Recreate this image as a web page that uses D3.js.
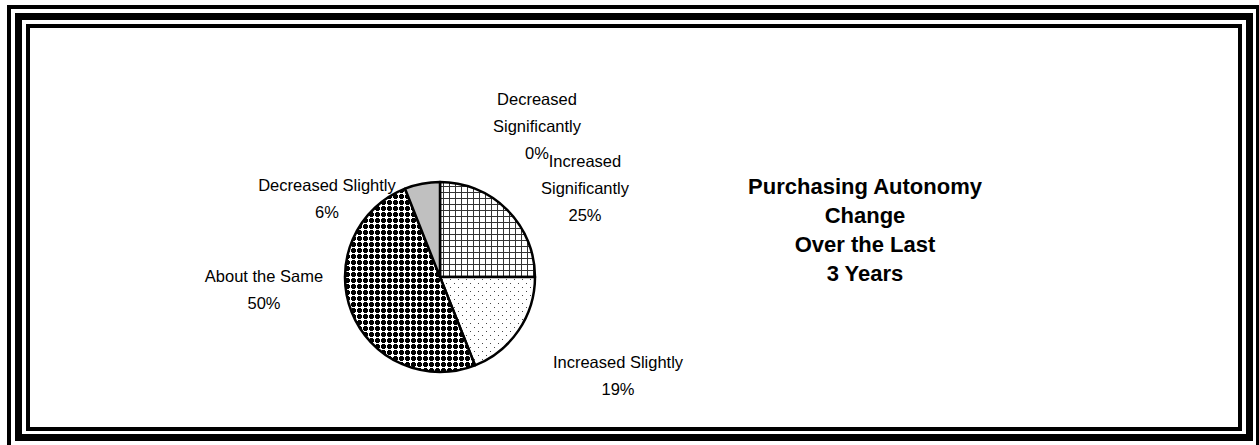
<!DOCTYPE html>
<html>
<head>
<meta charset="utf-8">
<script src="https://cdn.jsdelivr.net/npm/d3@7/dist/d3.min.js"></script>
<style>
  html, body { margin: 0; padding: 0; background: #fff; }
  svg { display: block; }
  text { font-family: "Liberation Sans", Arial, sans-serif; fill: #000; }
</style>
</head>
<body>
<svg id="chart" width="1259" height="445"></svg>
<script>
// Survey answers, in clockwise order from 12 o'clock
const categories = [
  "Increased Significantly",
  "Increased Slightly",
  "About the Same",
  "Decreased Slightly",
  "Decreased Significantly"
];
const values = [25, 19, 50, 6, 0];
const labelLines = [
  ["Increased", "Significantly", "25%"],
  ["Increased Slightly", "19%"],
  ["About the Same", "50%"],
  ["Decreased Slightly", "6%"],
  ["Decreased", "Significantly", "0%"]
];
const titleLines = ["Purchasing Autonomy", "Change", "Over the Last", "3 Years"];

// Fill for each slice (pattern ids or colours)
const fills = ["url(#pGrid)", "url(#pDots)", "url(#pPlus)", "#c0c0c0", "#ffffff"];
// Label anchor offsets from the pie centre
const labelOffsets = [[145, -89], [178, 99], [-176, 13], [-113, -78], [97, -151]];

const W = 1259, H = 445;
const cx = 440, cy = 277, R = 95;
const svg = d3.select("#chart");

// Patterns
const defs = svg.append("defs");
const grid = defs.append("pattern").attr("id", "pGrid")
  .attr("patternUnits", "userSpaceOnUse").attr("width", 6).attr("height", 6);
grid.append("rect").attr("width", 6).attr("height", 6).attr("fill", "#fff");
grid.append("rect").attr("x", 3).attr("y", 0).attr("width", 1).attr("height", 6).attr("fill", "#333");
grid.append("rect").attr("x", 0).attr("y", 5).attr("width", 6).attr("height", 1).attr("fill", "#333");

const dots = defs.append("pattern").attr("id", "pDots")
  .attr("patternUnits", "userSpaceOnUse").attr("width", 8).attr("height", 8);
dots.append("rect").attr("width", 8).attr("height", 8).attr("fill", "#fff");
dots.append("rect").attr("x", 2).attr("y", 2).attr("width", 1).attr("height", 1).attr("fill", "#444");
dots.append("rect").attr("x", 6).attr("y", 6).attr("width", 1).attr("height", 1).attr("fill", "#444");

const plus = defs.append("pattern").attr("id", "pPlus")
  .attr("patternUnits", "userSpaceOnUse").attr("width", 6).attr("height", 6);
plus.append("rect").attr("width", 6).attr("height", 6).attr("fill", "#fff");
plus.append("rect").attr("x", 2).attr("y", 1).attr("width", 3).attr("height", 5).attr("fill", "#000");
plus.append("rect").attr("x", 1).attr("y", 2).attr("width", 5).attr("height", 3).attr("fill", "#000");

// Triple frame
svg.append("rect").attr("x", 9).attr("y", 7).attr("width", 1249).attr("height", 440)
  .attr("fill", "none").attr("stroke", "#000").attr("stroke-width", 4);
svg.append("rect").attr("x", 18.5).attr("y", 16.5).attr("width", 1231).attr("height", 421)
  .attr("fill", "none").attr("stroke", "#000").attr("stroke-width", 7);
svg.append("rect").attr("x", 28).attr("y", 26).attr("width", 1212).attr("height", 403)
  .attr("fill", "none").attr("stroke", "#000").attr("stroke-width", 4);

// Pie
const pie = d3.pie().sort(null).value(d => d)(values);
const arc = d3.arc().innerRadius(0).outerRadius(R);
const g = svg.append("g").attr("transform", `translate(${cx},${cy})`);
g.selectAll("path.slice").data(pie.filter(d => d.value > 0)).join("path")
  .attr("class", "slice")
  .attr("d", arc)
  .attr("fill", d => fills[d.index])
  .attr("stroke", "#000")
  .attr("stroke-width", 2.5)
  .attr("stroke-linejoin", "round");

// Slice labels
const lh = 27;
pie.forEach((d, i) => {
  const lines = labelLines[i];
  const [dx, dy] = labelOffsets[i];
  const y0 = cy + dy - (lines.length - 1) * lh / 2;
  const t = svg.append("text").attr("text-anchor", "middle").attr("font-size", 16.5);
  lines.forEach((ln, k) => {
    t.append("tspan").attr("x", cx + dx).attr("y", y0 + k * lh).attr("dy", "0.35em").text(ln);
  });
});

// Title
const title = svg.append("text").attr("text-anchor", "middle")
  .attr("font-size", 22).attr("font-weight", "bold");
titleLines.forEach((ln, k) => {
  title.append("tspan").attr("x", 865).attr("y", 186 + k * 29).attr("dy", "0.35em").text(ln);
});
</script>
</body>
</html>
